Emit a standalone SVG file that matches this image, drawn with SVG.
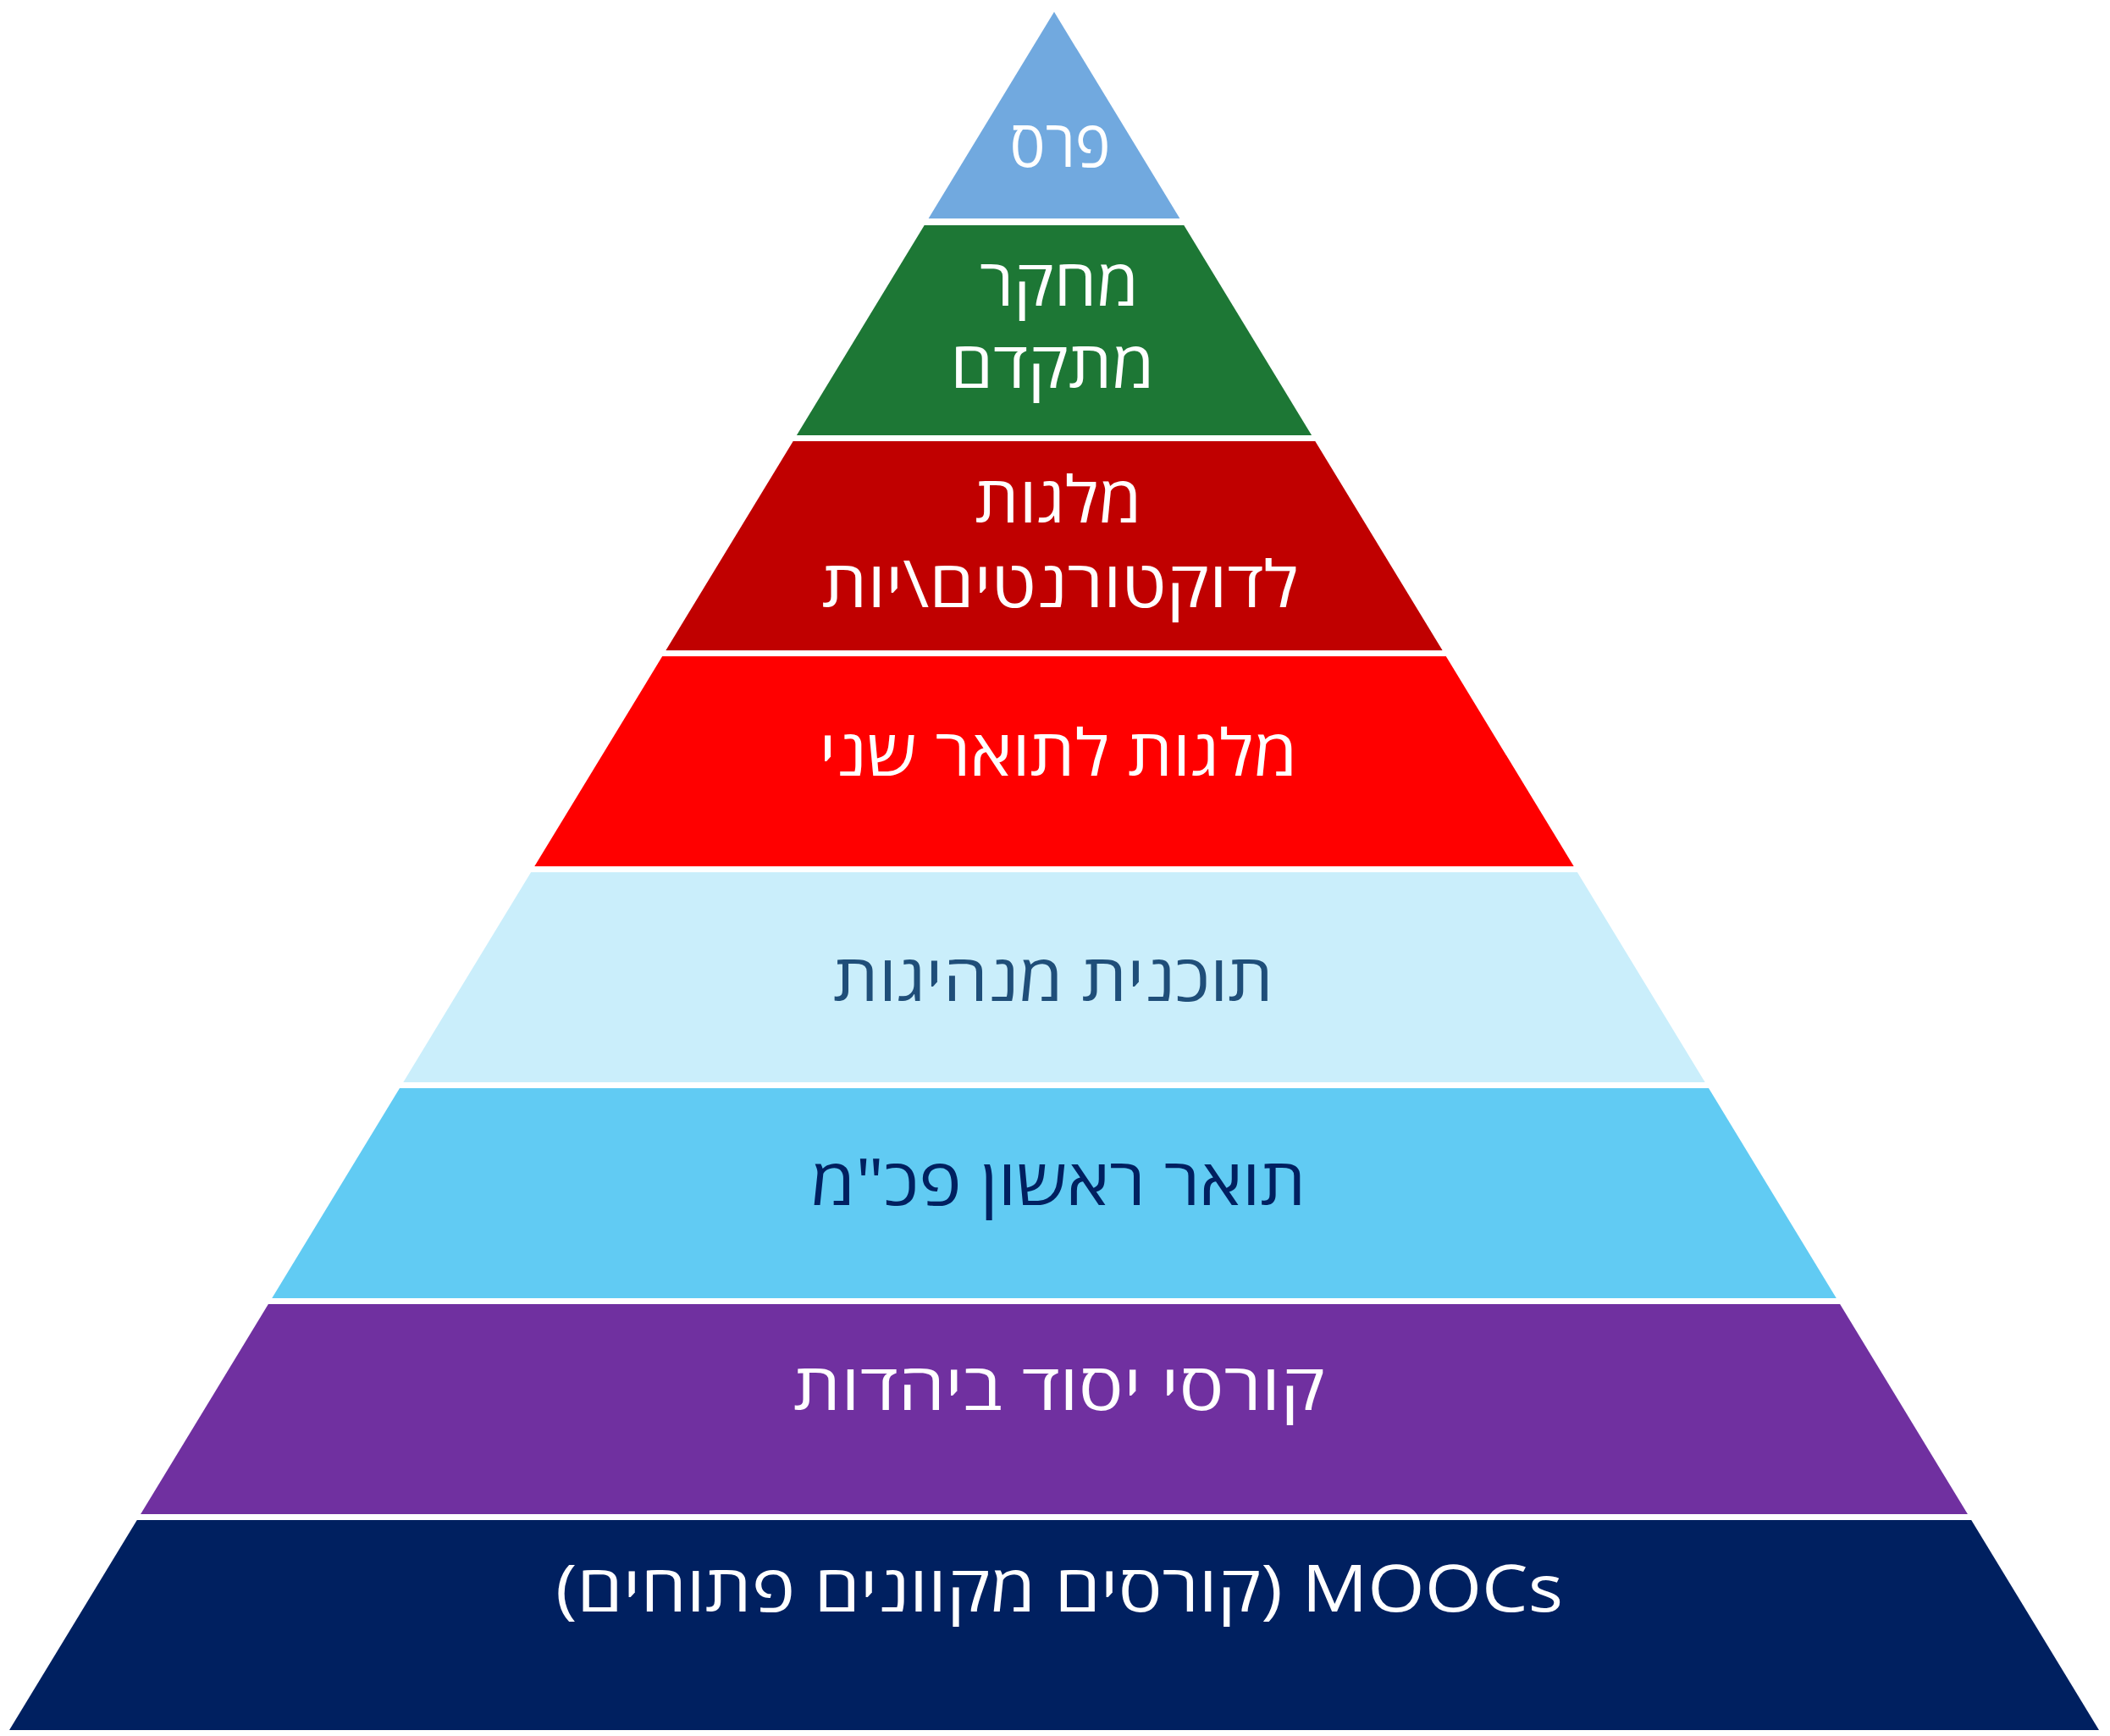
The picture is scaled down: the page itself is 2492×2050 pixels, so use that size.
<svg xmlns="http://www.w3.org/2000/svg" width="2492" height="2050" viewBox="0 0 2492 2050">
<style>
  text { font-family: "Open Sans", "DejaVu Sans", "Liberation Sans", sans-serif; font-size: 76px; text-anchor: middle; direction: rtl; }
  .w { fill: #FFFFFF; }
  .d1 { fill: #1F4E79; }
  .d2 { fill: #002060; }
</style>
<rect x="0" y="0" width="2492" height="2050" fill="#FFFFFF"/>
<g id="level-1-pras">
  <polygon points="1245,14 1393.4,258 1096.6,258" fill="#71A9DF"/>
  <text class="w" x="1252" y="197" textLength="119" lengthAdjust="spacingAndGlyphs">פרס</text>
</g>
<g id="level-2-research">
  <polygon points="1091.7,266 1398.3,266 1549.1,514 940.9,514" fill="#1D7735"/>
  <text class="w" x="1251" y="361" textLength="188" lengthAdjust="spacingAndGlyphs">מחקר</text>
  <text class="w" x="1243" y="458" textLength="241" lengthAdjust="spacingAndGlyphs">מתקדם</text>
</g>
<g id="level-3-doctoral">
  <polygon points="936.7,521 1553.3,521 1703.6,768 786.4,768" fill="#C00000"/>
  <text class="w" x="1250" y="617" textLength="197" lengthAdjust="spacingAndGlyphs">מלגות</text>
  <text class="w" x="1252" y="717" textLength="563" lengthAdjust="spacingAndGlyphs">לדוקטורנטים\יות</text>
</g>
<g id="level-4-masters">
  <polygon points="782.2,775 1707.8,775 1858.7,1023 631.3,1023" fill="#FF0000"/>
  <text class="w" x="1250" y="916" textLength="565" lengthAdjust="spacingAndGlyphs">מלגות לתואר שני</text>
</g>
<g id="level-5-leadership">
  <polygon points="627.1,1030 1862.9,1030 2013.7,1278 476.3,1278" fill="#CAEEFB"/>
  <text class="d1" x="1244" y="1182" textLength="520" lengthAdjust="spacingAndGlyphs">תוכנית מנהיגות</text>
</g>
<g id="level-6-bachelor">
  <polygon points="472,1285 2018,1285 2168.8,1533 321.2,1533" fill="#61CBF3"/>
  <text class="d2" x="1250" y="1423" textLength="585" lengthAdjust="spacingAndGlyphs">תואר ראשון פכ&quot;מ</text>
</g>
<g id="level-7-judaism">
  <polygon points="316.9,1540 2173.1,1540 2323.9,1788 166.1,1788" fill="#7030A0"/>
  <text class="w" x="1251" y="1665" textLength="628" lengthAdjust="spacingAndGlyphs">קורסי יסוד ביהדות</text>
</g>
<g id="level-8-moocs">
  <polygon points="161.8,1795 2328.2,1795 2479,2043 11,2043" fill="#002060"/>
  <text class="w" x="1251" y="1903" textLength="1190" lengthAdjust="spacingAndGlyphs">MOOCs (קורסים מקוונים פתוחים)</text>
</g>
</svg>
